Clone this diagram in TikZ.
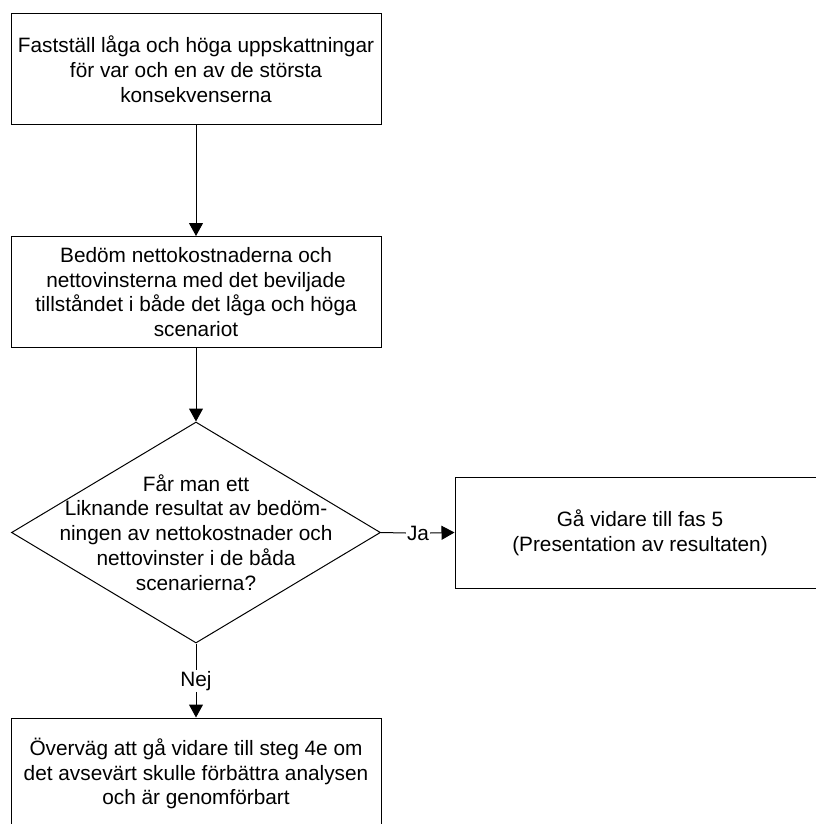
\documentclass[tikz,border=0pt]{standalone}
\usepackage{fontspec}
\setmainfont{Liberation Sans}
\usetikzlibrary{shapes.geometric,arrows.meta}

\begin{document}
\begin{tikzpicture}[x=1pt,y=-1pt,
  every node/.style={font=\fontsize{20.8}{24.8}\selectfont, text=black},
  stepbox/.style={draw=black, line width=1pt, rectangle, minimum width=370pt,
    minimum height=111pt, align=center, inner sep=0pt},
  decbox/.style={draw=black, line width=1pt, diamond, minimum width=369pt,
    minimum height=221pt, inner sep=0pt},
  flow/.style={line width=1pt, draw=black},
  tip/.style={-{Triangle[length=13pt,width=14pt]}},
  edgelabel/.style={inner sep=1pt}]

  \useasboundingbox (0,0) rectangle (815,824);

  % steps of the procedure
  \node[stepbox] (est) at (196,69.5)
    {Fastställ låga och höga uppskattningar\\för var och en av de största\\konsekvenserna};
  \node[stepbox] (bed) at (196,292)
    {Bedöm nettokostnaderna och\\nettovinsterna med det beviljade\\tillståndet i både det låga och höga\\scenariot};

  % decision
  \node[decbox] (dec) at (196,532.5) {};
  \node[align=center, inner sep=0pt] (dectext) at (dec.center)
    {Får man ett\\Liknande resultat av bedöm-\\ningen av nettokostnader och\\nettovinster i de båda\\scenarierna?};

  % outcomes
  \node[stepbox] (fas) at (640,532.5)
    {Gå vidare till fas 5\\(Presentation av resultaten)};
  \node[stepbox] (ovr) at (196,773.5)
    {Överväg att gå vidare till steg 4e om\\det avsevärt skulle förbättra analysen\\och är genomförbart};

  % branch labels
  \node[edgelabel] (ja) at (418,533) {Ja};
  \node[edgelabel] (nej) at (196,681) {Nej};

  % connectors
  \draw[flow,tip] (est) -- (bed);
  \draw[flow,tip] (bed) -- (dec.north);
  \draw[flow] (dec.east) -- (ja.west);
  \draw[flow,tip] (ja.east) -- (fas.west);
  \draw[flow] (dec.south) -- (nej.north);
  \draw[flow,tip] (nej.south) -- (ovr.north);
\end{tikzpicture}
\end{document}
